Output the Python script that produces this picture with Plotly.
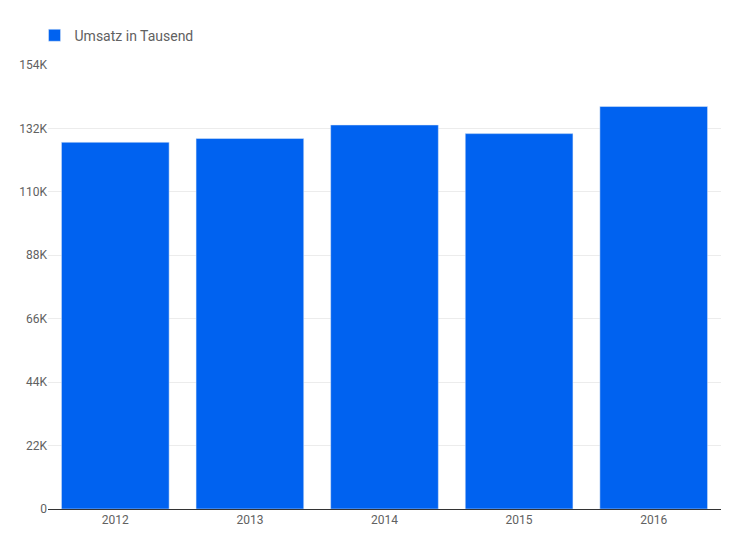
import plotly.graph_objects as go

years = ["2012", "2013", "2014", "2015", "2016"]
umsatz = [127200, 128500, 133200, 130200, 139600]
tick_vals = [0, 22000, 44000, 66000, 88000, 110000, 132000, 154000]
tick_text = ["0", "22K", "44K", "66K", "88K", "110K", "132K", "154K"]

fig = go.Figure()
fig.add_trace(go.Bar(
    x=years, y=umsatz, name="Umsatz in Tausend",
    marker_color="#0062f0", showlegend=True
))

fig.update_layout(
    width=738, height=538,
    margin=dict(l=40, r=25, t=40, b=37),
    plot_bgcolor="white", paper_bgcolor="white",
    font=dict(family="Roboto", size=12, color="#616161"),
    bargap=0.2,
    legend=dict(orientation="h", x=-0.02, y=1.03, xanchor="left", yanchor="bottom",
                font=dict(size=14, color="#616161")),
)
fig.update_xaxes(showline=True, linecolor="#333", tickfont=dict(size=12))
fig.update_yaxes(range=[0, 154000], tickvals=tick_vals, ticktext=tick_text,
                 gridcolor="#ececec", zeroline=False, showline=False, ticks="",
                 ticklen=0, tickfont=dict(size=12))

fig.write_html("out.html")
